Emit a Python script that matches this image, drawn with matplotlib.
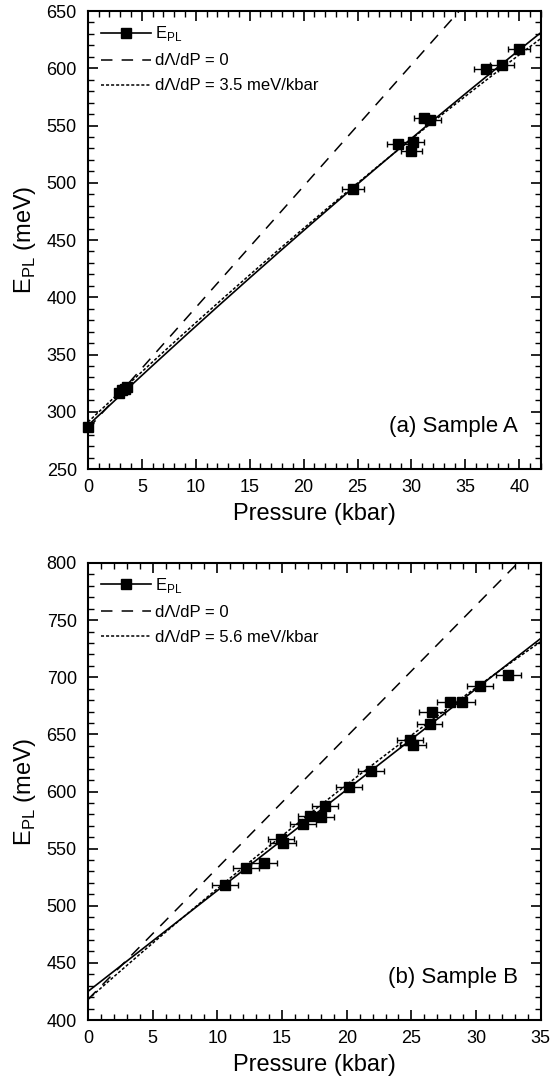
import numpy as np
import matplotlib
matplotlib.use("Agg")
import matplotlib.pyplot as plt
from matplotlib.lines import Line2D
from matplotlib.ticker import MultipleLocator

plt.rcParams['font.family'] = ['Liberation Sans', 'DejaVu Sans']

# Sample A data
p_a = [0.0, 2.9, 3.2, 3.4, 3.6, 24.6, 28.8, 30.1, 30.0, 31.2, 31.7, 36.9, 38.4, 40.0]
e_a = [287, 316, 319, 320, 322, 495, 534, 536, 528, 557, 555, 599, 603, 617]
perr_a = [0.2, 0.3, 0.3, 0.3, 0.3, 1.0, 1.1, 1.1, 1.0, 1.0, 1.0, 1.1, 1.1, 1.0]

# Sample B data
p_b = [10.6, 12.2, 13.6, 14.9, 15.1, 16.6, 17.2, 18.0, 18.3, 20.2, 21.9,
       24.9, 25.1, 26.4, 26.6, 28.0, 28.9, 30.3, 32.5]
e_b = [518, 533, 537, 558, 555, 572, 579, 578, 587, 604, 618,
       645, 641, 659, 670, 678, 678, 692, 702]
perr_b = [1.0] * len(p_b)

# model curves (coefficients: c0 + c1*P + c2*P^2)
fit_a = [288, 8.825, -0.0156]
zero_a = [285, 10.6, 0.0]
dot_a = [291, 8.9, -0.022]
fit_b = [425, 8.83, 0.0]
zero_b = [418, 11.5, 0.0]
dot_b = [418, 10.0, -0.03]

DASH = (7.5, 6)
DOT = (2, 1.3)


def curve(c, p):
    return c[0] + c[1] * p + c[2] * p ** 2


fig = plt.figure(figsize=(5.53, 10.81), dpi=100)
ax_a = fig.add_axes([0.159, 0.5661, 0.819, 0.4237])
ax_b = fig.add_axes([0.159, 0.0564, 0.819, 0.4228])

panels = [
    (ax_a, p_a, e_a, perr_a, fit_a, zero_a, dot_a, 42, (250, 650), '3.5', '(a) Sample A'),
    (ax_b, p_b, e_b, perr_b, fit_b, zero_b, dot_b, 35, (400, 800), '5.6', '(b) Sample B'),
]

for ax, p, e, perr, c_fit, c_zero, c_dot, xmax, ylim, rate, title in panels:
    pp = np.linspace(0, xmax, 200)
    ax.plot(pp, curve(c_fit, pp), color='black', lw=1.2)
    ax.plot(pp, curve(c_zero, pp), color='black', lw=1.1, dashes=DASH)
    ax.plot(pp, curve(c_dot, pp), color='black', lw=1.1, dashes=DOT)
    eb = ax.errorbar(p, e, xerr=perr, fmt='s', color='black', ms=7,
                     elinewidth=1.0, capsize=2.5, capthick=1.0)
    eb[0].set_clip_on(False)

    ax.set_xlim(0, xmax)
    ax.set_ylim(*ylim)
    ax.xaxis.set_major_locator(MultipleLocator(5))
    ax.xaxis.set_minor_locator(MultipleLocator(1))
    ax.yaxis.set_major_locator(MultipleLocator(50))
    ax.yaxis.set_minor_locator(MultipleLocator(10))
    ax.tick_params(which='both', direction='in', top=True, right=True, labelsize=13)
    ax.tick_params(which='major', length=7, width=1.2)
    ax.tick_params(which='minor', length=4, width=1.0)
    ax.tick_params(axis='x', which='major', pad=7)
    ax.tick_params(axis='y', which='major', pad=8)
    for s in ax.spines.values():
        s.set_linewidth(1.5)

    ax.set_xlabel('Pressure (kbar)', fontsize=17, labelpad=5)
    ax.set_ylabel('E$_{\\mathregular{PL}}$ (meV)', fontsize=17, labelpad=6)
    ax.text(0.95, 0.07, title, transform=ax.transAxes, ha='right', va='bottom', fontsize=16)

    handles = [
        Line2D([], [], color='black', lw=1.2, marker='s', ms=7),
        Line2D([], [], color='black', lw=1.1, dashes=DASH),
        Line2D([], [], color='black', lw=1.1, dashes=DOT),
    ]
    labels = ['E$_{\\mathregular{PL}}$', 'd\u039b/dP = 0', 'd\u039b/dP = ' + rate + ' meV/kbar']
    ax.legend(handles, labels, loc='upper left', frameon=False, fontsize=12,
              handlelength=3.0, handletextpad=0.25, labelspacing=0.6,
              borderaxespad=0.4)

fig.savefig('out.png', dpi=100)
